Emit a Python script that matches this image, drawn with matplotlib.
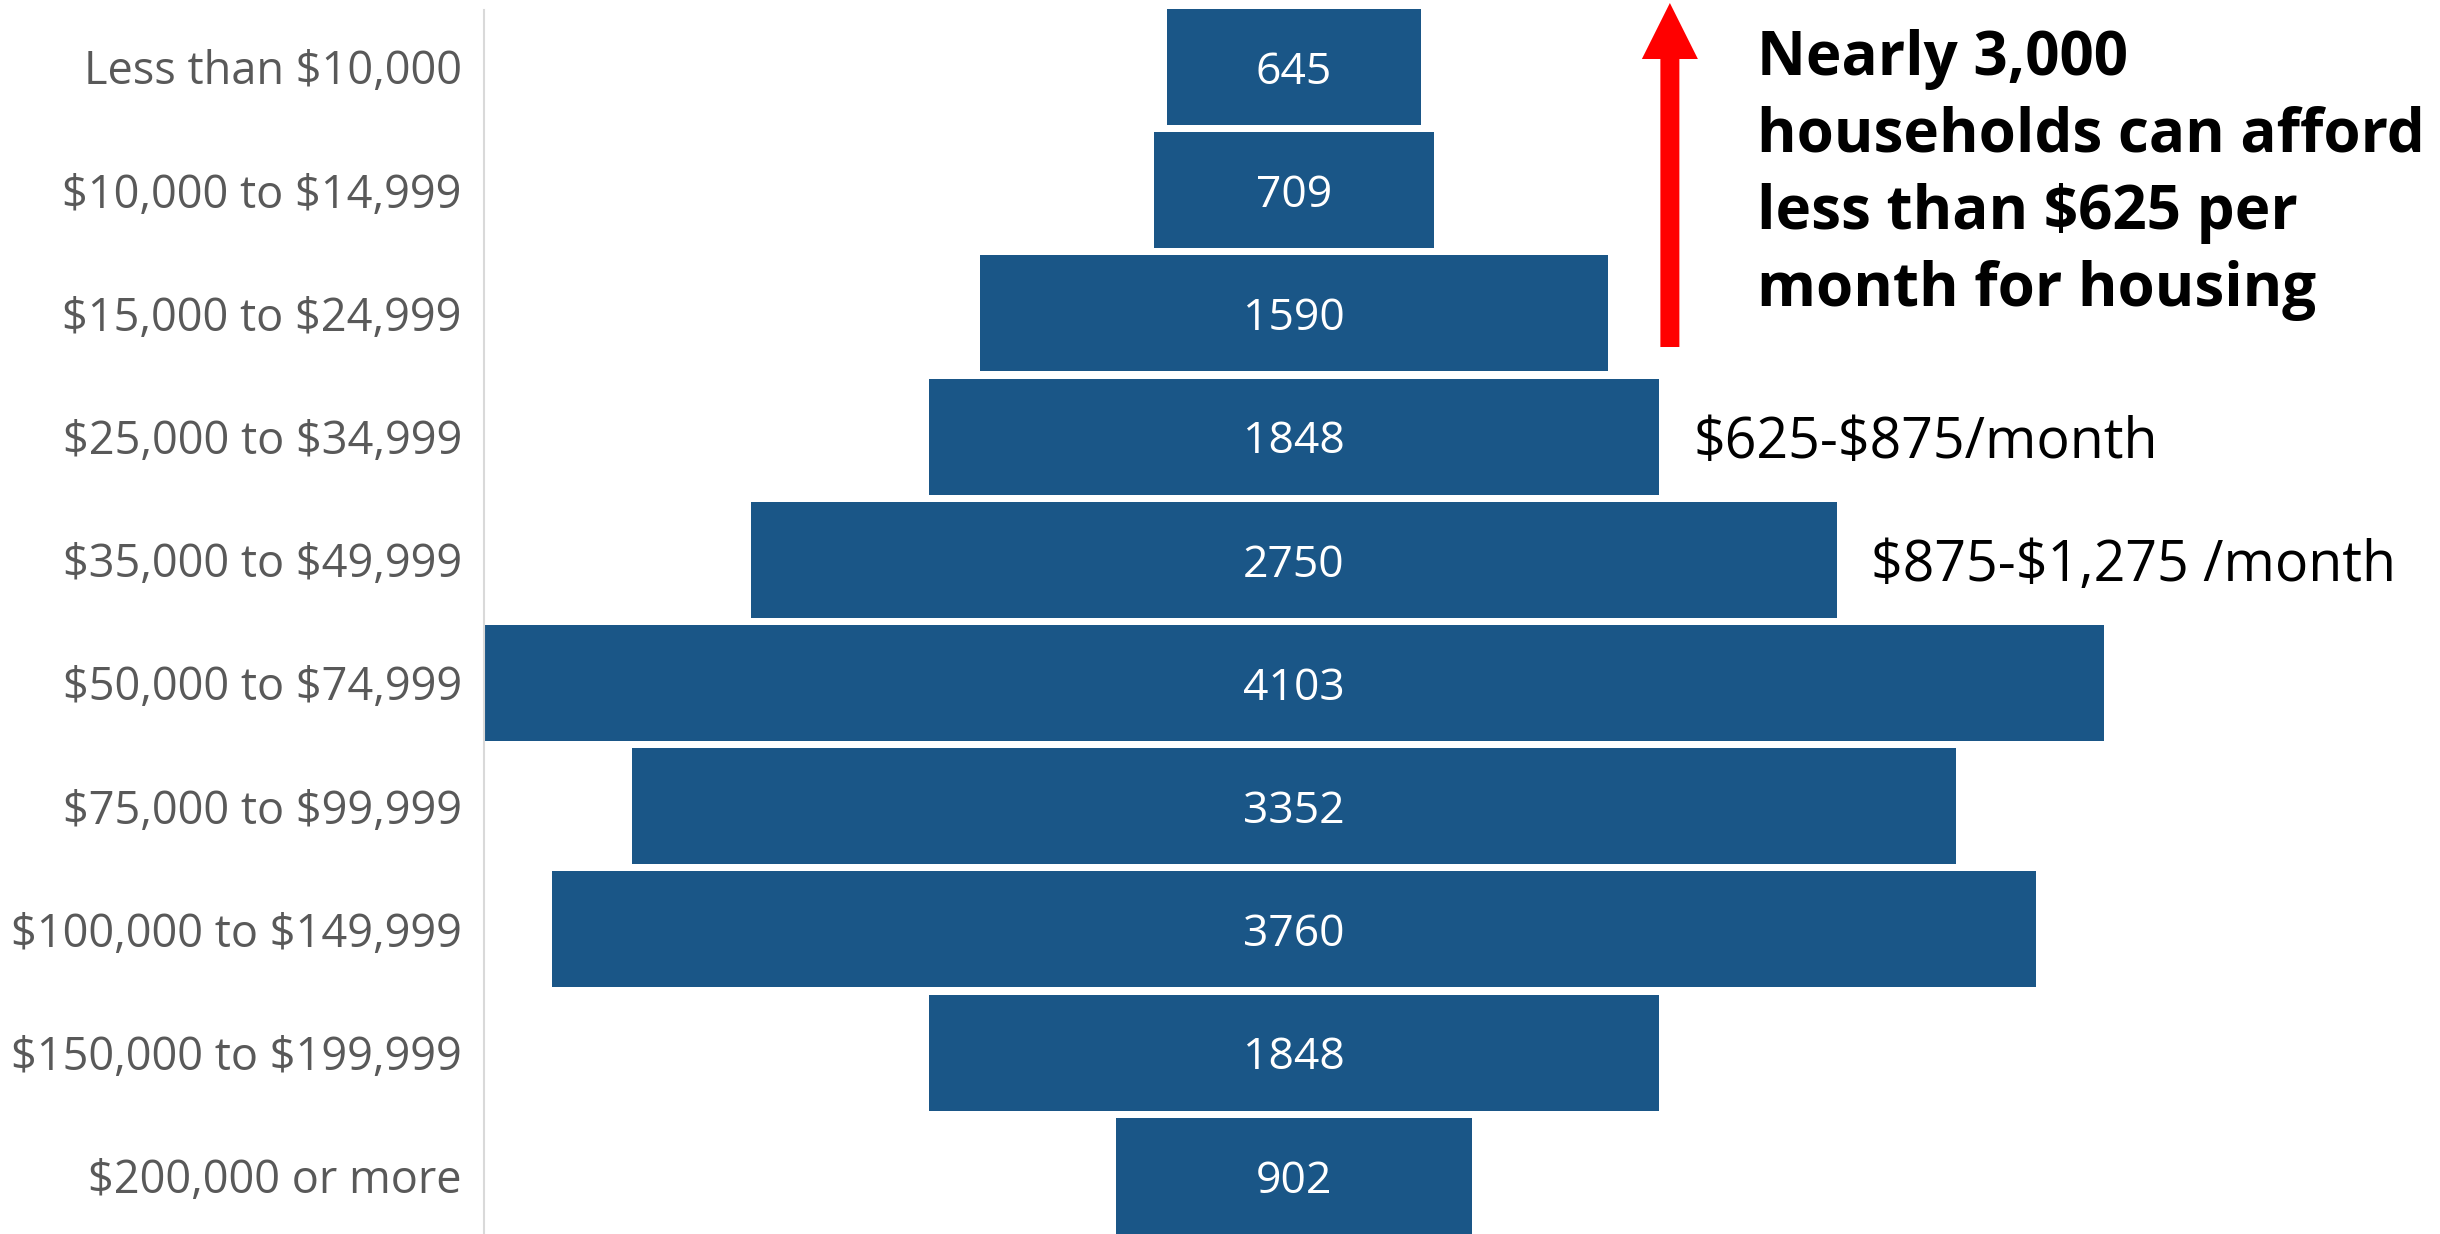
import matplotlib
matplotlib.use("Agg")
import matplotlib.pyplot as plt
from matplotlib.patches import FancyArrow

categories = ["Less than $10,000", "$10,000 to $14,999", "$15,000 to $24,999",
              "$25,000 to $34,999", "$35,000 to $49,999", "$50,000 to $74,999",
              "$75,000 to $99,999", "$100,000 to $149,999", "$150,000 to $199,999",
              "$200,000 or more"]
households = [645, 709, 1590, 1848, 2750, 4103, 3352, 3760, 1848, 902]
rent_notes = {3: "$625-$875/month", 4: "$875-$1,275 /month"}
callout = "Nearly 3,000\nhouseholds can afford\nless than $625 per\nmonth for housing"

BAR = "#1A5687"
FONT = ["Open Sans", "DejaVu Sans"]
plt.rcParams["font.family"] = FONT
plt.rcParams["text.parse_math"] = False

W, H = 2440, 1234
fig = plt.figure(figsize=(W / 100, H / 100), dpi=100)
left_px, right_px = 484, 2104
ax = fig.add_axes([left_px / W, 0, (right_px - left_px) / W, 1])

maxv = max(households)
ax.set_xlim(-maxv / 2, maxv / 2)
pitch = 123.2
top = -67 / pitch
ax.set_ylim(top + H / pitch, top)
upx = maxv / (right_px - left_px)  # data units per pixel in x

ys = list(range(len(categories)))
lefts = [-v / 2 for v in households]
ax.barh(ys, households, left=lefts, height=0.94, color=BAR, edgecolor="none", zorder=2)

for y, v in zip(ys, households):
    ax.text(0, y, f"{v}", ha="center", va="center_baseline", color="white",
            fontsize=32, zorder=3)

ax.set_yticks(ys)
ax.set_yticklabels(categories, fontsize=32.5, color="#595959")
for lbl in ax.get_yticklabels():
    lbl.set_va("center_baseline")
ax.tick_params(axis="y", length=0, pad=16)
ax.set_xticks([])
for s in ["top", "right", "bottom"]:
    ax.spines[s].set_visible(False)
ax.spines["left"].set_color("#D9D9D9")
ax.spines["left"].set_linewidth(1.5)
ax.spines["left"].set_bounds(ax.get_ylim()[0], top + 10 / pitch)

for i, txt in rent_notes.items():
    ax.text(households[i] / 2 + 87, i, txt, ha="left", va="center_baseline",
            fontsize=40, color="black", clip_on=False)

# red arrow
ay0 = top + 347 / pitch
ay1 = top + 3 / pitch
arrow = FancyArrow(952, ay0, 0, ay1 - ay0, width=19 * upx, head_width=56 * upx,
                   head_length=56 / pitch, length_includes_head=True,
                   color="#FF0000", lw=0, clip_on=False, zorder=4)
ax.add_patch(arrow)

ax.text(1173, top + 175 / pitch, callout, ha="left", va="center", fontsize=43.3,
        fontweight="bold", color="black", linespacing=1.35, clip_on=False)

fig.savefig("out.png", dpi=100, facecolor="white")
